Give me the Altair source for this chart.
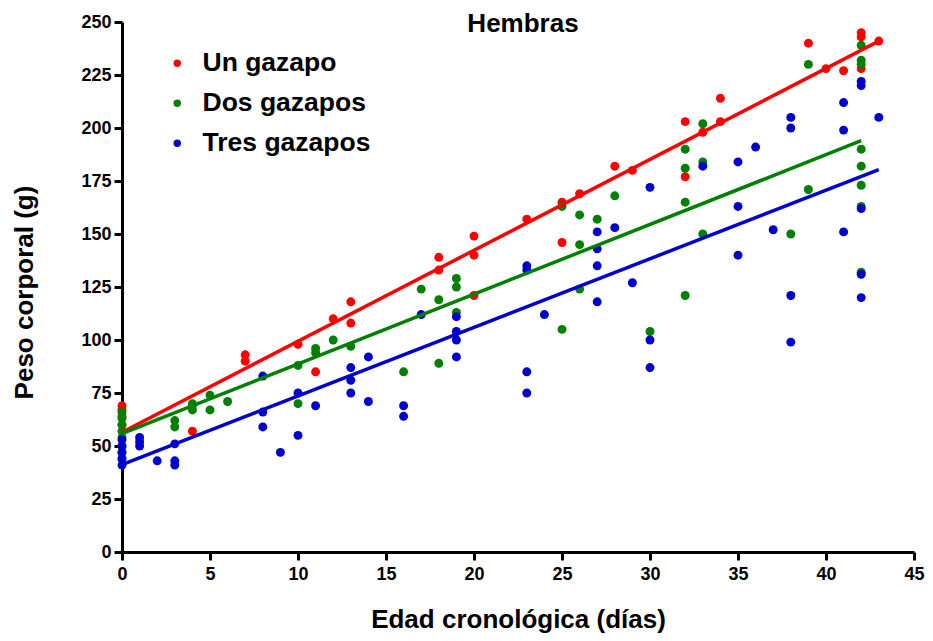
import altair as alt
import pandas as pd

# ---- data ----
series_names = ["Un gazapo", "Dos gazapos", "Tres gazapos"]
series_colors = ["#FF0000", "#008000", "#0000CC"]

un_x = [0, 0, 0, 0, 4, 7, 7, 10, 11, 12, 13, 13, 18, 18, 20, 20, 20, 23, 25, 25, 26, 28, 29,
        32, 32, 33, 34, 34, 39, 40, 41, 42, 42, 42, 43]
un_y = [69, 67, 64, 60, 57, 93, 90, 98, 85, 110, 118, 108, 139, 133, 149, 140, 121, 157, 165, 146, 169, 182, 180,
        203, 177, 198, 214, 203, 240, 228, 227, 245, 243, 228, 241]

dos_x = [0, 0, 0, 0, 0, 0, 0, 0, 3, 3, 4, 4, 4, 5, 5, 6, 10, 10, 11, 11, 12, 13, 16, 17, 18, 18,
         19, 19, 19, 25, 25, 26, 26, 26, 27, 28, 30, 32, 32, 32, 32, 33, 33, 33, 38, 39, 39,
         42, 42, 42, 42, 42, 42, 42, 42]
dos_y = [66, 63, 60, 57, 54, 50, 47, 44, 62, 59, 70, 69, 67, 74, 67, 71, 88, 70, 96, 94, 100, 97, 85, 124, 119, 89,
         129, 125, 113, 163, 105, 159, 145, 124, 157, 168, 104, 190, 181, 165, 121, 202, 184, 150, 150, 230, 171,
         239, 232, 230, 190, 182, 173, 163, 132]

tres_x = [0, 0, 0, 0, 0, 1, 1, 1, 2, 3, 3, 3, 8, 8, 8, 9, 10, 10, 11, 13, 13, 13, 14, 14, 16, 16, 17,
          19, 19, 19, 19, 23, 23, 23, 23, 24, 27, 27, 27, 27, 28, 29, 30, 30, 30, 33, 35, 35, 35, 36, 37,
          38, 38, 38, 38, 41, 41, 41, 42, 42, 42, 42, 42, 43]
tres_y = [53, 50, 47, 44, 41, 54, 52, 50, 43, 51, 43, 41, 83, 66, 59, 47, 75, 55, 69, 87, 81, 75, 92, 71, 69, 64, 112,
          111, 104, 100, 92, 135, 133, 85, 75, 112, 151, 143, 135, 118, 153, 127, 172, 100, 87, 182, 184, 163, 140, 191, 152,
          205, 200, 121, 99, 212, 199, 151, 222, 220, 162, 131, 120, 205]

# regression lines (end points)
fit_series = ["Un gazapo", "Un gazapo", "Dos gazapos", "Dos gazapos", "Tres gazapos", "Tres gazapos"]
fit_x = [0, 43, 0, 42, 0, 43]
fit_y = [56.5, 241, 55.8, 194, 41.2, 180.4]

title_text = ["Hembras"]
x_ticks = [0, 5, 10, 15, 20, 25, 30, 35, 40, 45]
y_ticks = [0, 25, 50, 75, 100, 125, 150, 175, 200, 225, 250]

# ---- tables ----
pts = pd.DataFrame({
    "edad": un_x + dos_x + tres_x,
    "peso": un_y + dos_y + tres_y,
    "grupo": [series_names[0]] * len(un_x) + [series_names[1]] * len(dos_x) + [series_names[2]] * len(tres_x),
})
fits = pd.DataFrame({"edad": fit_x, "peso": fit_y, "grupo": fit_series})
ttl = pd.DataFrame({"t": title_text})

FONT = "Liberation Sans"
W, H = 792, 530

color = alt.Color(
    "grupo:N",
    scale=alt.Scale(domain=series_names, range=series_colors),
    legend=alt.Legend(
        title=None, orient="none", legendX=42, legendY=28, padding=0,
        symbolType="circle", symbolSize=55, symbolStrokeWidth=0,
        labelFont=FONT, labelFontSize=26.5, labelFontWeight="bold", labelColor="black",
        labelOffset=12, rowPadding=13, labelLimit=400,
    ),
)

xenc = alt.X(
    "edad:Q",
    scale=alt.Scale(domain=[0, 45], nice=False, zero=True),
    axis=alt.Axis(
        values=x_ticks, title="Edad cronológica (días)", grid=False, labelFlush=False,
        titleX=W / 2, titleY=75, titleBaseline="alphabetic",
    ),
)
yenc = alt.Y(
    "peso:Q",
    scale=alt.Scale(domain=[0, 250], nice=False),
    axis=alt.Axis(
        values=y_ticks, title="Peso corporal (g)", grid=False, labelFlush=False,
        titleX=-90, titleY=270, titleBaseline="alphabetic", titleAngle=-90,
    ),
)

lines = alt.Chart(fits).mark_line(strokeWidth=3.5).encode(
    x=xenc, y=yenc, color=alt.Color("grupo:N", scale=alt.Scale(domain=series_names, range=series_colors), legend=None),
    detail="grupo:N",
)
points = alt.Chart(pts).mark_circle(size=80, opacity=1).encode(x=xenc, y=yenc, color=color)

title_mark = alt.Chart(ttl).mark_text(
    font=FONT, fontSize=26, fontWeight="bold", color="black", align="center", baseline="alphabetic"
).encode(text="t:N", x=alt.value(401), y=alt.value(10))

chart = alt.layer(points, lines, title_mark).properties(
    width=W, height=H,
    autosize=alt.AutoSizeParams(type="none"),
    padding={"left": 114, "top": 14, "right": 11, "bottom": 81},
).configure_view(strokeWidth=0).configure_axis(
    labelFont=FONT, labelFontSize=18, labelFontWeight="bold", labelColor="black",
    titleFont=FONT, titleFontSize=26, titleFontWeight="bold", titleColor="black",
    domainColor="black", domainWidth=3, tickColor="black", tickWidth=3, tickSize=8,
    labelPadding=3,
).configure_axisX(labelPadding=5)

chart.save("out.html", embed_options={"renderer": "svg", "actions": False})
